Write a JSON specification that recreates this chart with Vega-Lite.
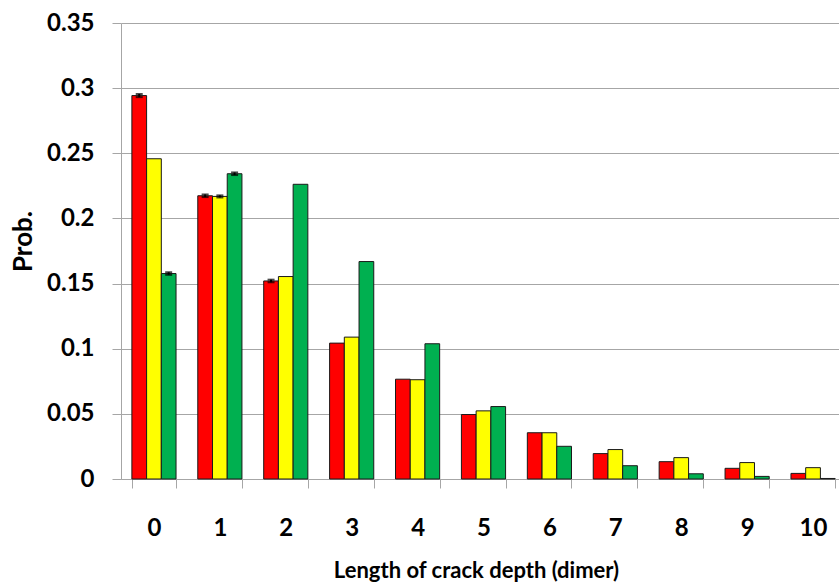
{
  "$schema": "https://vega.github.io/schema/vega-lite/v6.json",
  "autosize": "none",
  "width": 718,
  "height": 456,
  "padding": {"left": 121, "top": 23, "right": 0, "bottom": 106},
  "background": "white",
  "config": {
    "view": {"stroke": null},
    "font": "Lato",
    "axis": {"labelFont": "Lato", "titleFont": "Lato"}
  },
  "data": {
    "values": [
      {"depth": "0", "series": "A", "prob": 0.2943, "err": 0.0012},
      {"depth": "0", "series": "B", "prob": 0.2458, "err": 0},
      {"depth": "0", "series": "C", "prob": 0.1577, "err": 0.0010},
      {"depth": "1", "series": "A", "prob": 0.2174, "err": 0.0010},
      {"depth": "1", "series": "B", "prob": 0.2169, "err": 0.0008},
      {"depth": "1", "series": "C", "prob": 0.2343, "err": 0.0010},
      {"depth": "2", "series": "A", "prob": 0.1520, "err": 0.0010},
      {"depth": "2", "series": "B", "prob": 0.1554, "err": 0},
      {"depth": "2", "series": "C", "prob": 0.2262, "err": 0},
      {"depth": "3", "series": "A", "prob": 0.1043, "err": 0},
      {"depth": "3", "series": "B", "prob": 0.1089, "err": 0},
      {"depth": "3", "series": "C", "prob": 0.1669, "err": 0},
      {"depth": "4", "series": "A", "prob": 0.0766, "err": 0},
      {"depth": "4", "series": "B", "prob": 0.0762, "err": 0},
      {"depth": "4", "series": "C", "prob": 0.1038, "err": 0},
      {"depth": "5", "series": "A", "prob": 0.0495, "err": 0},
      {"depth": "5", "series": "B", "prob": 0.0523, "err": 0},
      {"depth": "5", "series": "C", "prob": 0.0556, "err": 0},
      {"depth": "6", "series": "A", "prob": 0.0355, "err": 0},
      {"depth": "6", "series": "B", "prob": 0.0355, "err": 0},
      {"depth": "6", "series": "C", "prob": 0.0251, "err": 0},
      {"depth": "7", "series": "A", "prob": 0.0195, "err": 0},
      {"depth": "7", "series": "B", "prob": 0.0226, "err": 0},
      {"depth": "7", "series": "C", "prob": 0.0102, "err": 0},
      {"depth": "8", "series": "A", "prob": 0.0133, "err": 0},
      {"depth": "8", "series": "B", "prob": 0.0164, "err": 0},
      {"depth": "8", "series": "C", "prob": 0.0040, "err": 0},
      {"depth": "9", "series": "A", "prob": 0.0082, "err": 0},
      {"depth": "9", "series": "B", "prob": 0.0126, "err": 0},
      {"depth": "9", "series": "C", "prob": 0.0020, "err": 0},
      {"depth": "10", "series": "A", "prob": 0.0043, "err": 0},
      {"depth": "10", "series": "B", "prob": 0.0087, "err": 0},
      {"depth": "10", "series": "C", "prob": 0.0004, "err": 0}
    ]
  },
  "encoding": {
    "x": {
      "field": "depth",
      "type": "ordinal",
      "sort": ["0", "1", "2", "3", "4", "5", "6", "7", "8", "9", "10"],
      "scale": {"range": [0, 725], "paddingInner": 0.33, "paddingOuter": 0.165},
      "axis": {
        "title": "Length of crack depth (dimer)",
        "titleFontSize": 22,
        "titleFontWeight": "bold",
        "titleColor": "black",
        "titlePadding": 20,
        "titleX": 355,
        "labelFontSize": 24,
        "labelFontWeight": "bold",
        "labelColor": "black",
        "labelAngle": 0,
        "labelPadding": 28,
        "tickBand": "extent",
        "tickSize": 9,
        "tickColor": "#a6a6a6",
        "domainColor": "#a6a6a6",
        "grid": false
      }
    },
    "xOffset": {"field": "series", "type": "nominal", "sort": ["A", "B", "C"]},
    "y": {
      "field": "prob",
      "type": "quantitative",
      "scale": {"domain": [0, 0.35], "nice": false},
      "axis": {
        "title": "Prob.",
        "titleFontSize": 26,
        "titleFontWeight": "bold",
        "titleColor": "black",
        "titlePadding": 10,
        "titleY": 218,
        "values": [0, 0.05, 0.1, 0.15, 0.2, 0.25, 0.3, 0.35],
        "labelExpr": "datum.value == 0 ? '0' : format(datum.value, '.2~f')",
        "labelFontSize": 24,
        "labelFontWeight": "bold",
        "labelColor": "black",
        "labelPadding": 18,
        "tickSize": 9,
        "tickColor": "#a6a6a6",
        "domainColor": "#a6a6a6",
        "gridColor": "#a6a6a6",
        "gridWidth": 1
      }
    }
  },
  "layer": [
    {
      "mark": {"type": "bar", "stroke": "#1a1a1a", "strokeWidth": 1},
      "encoding": {
        "color": {
          "field": "series",
          "type": "nominal",
          "scale": {"domain": ["A", "B", "C"], "range": ["#ff0000", "#ffff00", "#00b050"]},
          "legend": null
        }
      }
    },
    {
      "transform": [{"filter": "datum.err > 0"}],
      "mark": {"type": "errorbar", "ticks": {"size": 7, "thickness": 2, "color": "black"}, "rule": {"strokeWidth": 2, "color": "black"}},
      "encoding": {
        "yError": {"field": "err"}
      }
    }
  ]
}
